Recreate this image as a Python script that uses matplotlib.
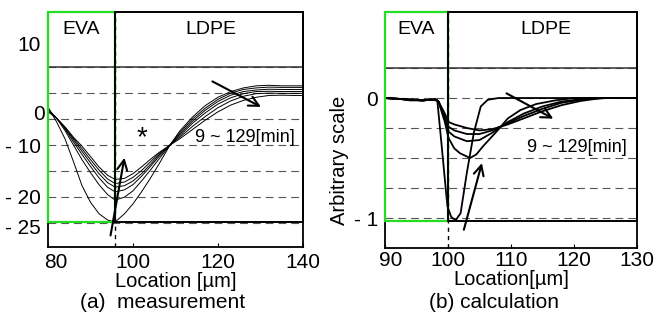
import matplotlib
matplotlib.use("Agg")
import matplotlib.pyplot as plt
from matplotlib.patches import Rectangle
from matplotlib.transforms import ScaledTranslation

plt.rcParams['font.family'] = ['Liberation Sans', 'DejaVu Sans']

GREEN = '#22dd22'
GRID_DASH = (0, (7, 4.5))

# ---- (a) measurement: six traces, 9 ~ 129 min ----
meas_x = [80, 82, 84, 86, 88, 90, 92, 94, 95.8, 98, 100, 102, 104, 106, 108.7,
          111, 114, 117, 120, 123, 126, 129, 132, 135, 138, 140]
meas_1 = [-2.7, -5.5, -8.8, -13.2, -17.8, -21.0, -23.2, -24.4, -24.8, -23.2, -21.3, -19.0, -16.5,
          -13.8, -10.0, -7.3, -4.6, -2.4, -0.8, 0.3, 1.0, 1.4, 1.5, 1.4, 1.4, 1.4]
meas_2 = [-3.0, -4.8, -7.2, -10.0, -12.8, -15.3, -17.6, -19.5, -20.6, -20.0, -18.8, -16.9, -14.9,
          -12.8, -10.0, -7.6, -5.0, -2.9, -1.2, 0.0, 0.7, 1.0, 1.15, 1.1, 1.1, 1.1]
meas_3 = [-3.2, -4.8, -6.9, -9.4, -11.8, -14.1, -16.3, -18.1, -19.0, -18.6, -17.6, -16.0, -14.2,
          -12.3, -10.0, -7.9, -5.4, -3.3, -1.6, -0.4, 0.3, 0.6, 0.75, 0.7, 0.7, 0.7]
meas_4 = [-3.3, -4.8, -6.7, -9.0, -11.2, -13.4, -15.5, -17.2, -18.1, -17.8, -16.9, -15.5, -13.8,
          -12.0, -10.0, -8.2, -5.8, -3.8, -2.1, -0.9, -0.1, 0.3, 0.35, 0.3, 0.3, 0.3]
meas_5 = [-3.4, -4.8, -6.6, -8.7, -10.7, -12.8, -14.8, -16.5, -17.4, -17.1, -16.2, -14.9, -13.3,
          -11.7, -10.0, -8.5, -6.4, -4.5, -2.8, -1.5, -0.6, -0.1, 0.0, -0.05, -0.05, -0.05]
meas_6 = [-3.6, -4.8, -6.5, -8.5, -10.2, -12.2, -14.2, -15.8, -16.6, -16.4, -15.5, -14.2, -12.8,
          -11.5, -10.0, -8.8, -7.0, -5.2, -3.6, -2.3, -1.4, -0.8, -0.45, -0.4, -0.45, -0.45]
meas_curves = [meas_1, meas_2, meas_3, meas_4, meas_5, meas_6]

meas_grid = [5, 0, -5, -10, -15, -20, -25]
meas_ytick_pos = [9.6, -3.8, -10, -19.8, -25.7]
meas_ytick_lab = ['10', '0', '- 10', '- 20', '- 25']
meas_xticks = [80, 100, 120, 140]
meas_boundary = 95.8

# ---- (b) calculation ----
calc_1_x = [90, 92, 94, 96, 97, 98.3, 99.0, 99.9, 100.5, 101.2, 102.0, 103.0, 104.1, 105.2, 106.3, 108, 130]
calc_1_y = [0, -0.005, -0.02, -0.02, -0.015, -0.02, -0.4, -0.9, -0.99, -1.02, -0.96, -0.62, -0.29,
            -0.07, -0.015, 0, 0]
calc_2_x = [90, 93, 96, 98, 98.5, 99.5, 100.05, 101.0, 101.9, 103.5, 104.5, 105.6, 107.7, 109.5,
            111.5, 114, 117, 120, 130]
calc_2_y = [0, -0.01, -0.02, -0.01, -0.03, -0.2, -0.33, -0.42, -0.46, -0.50, -0.47, -0.40, -0.28,
            -0.17, -0.10, -0.05, -0.02, 0, 0]
calc_3_x = [90, 93, 96, 98, 98.5, 99.5, 100.1, 101, 103, 105, 107, 109.5, 112, 115, 118, 121, 123, 130]
calc_3_y = [0, -0.01, -0.02, -0.01, -0.03, -0.18, -0.28, -0.32, -0.36, -0.35, -0.29, -0.20, -0.13,
            -0.07, -0.03, -0.01, 0, 0]
calc_4_x = [90, 93, 96, 98, 98.5, 99.5, 100.1, 101, 103, 105, 107, 109.5, 112, 115, 118, 121, 124, 130]
calc_4_y = [0, -0.01, -0.02, -0.01, -0.03, -0.15, -0.24, -0.27, -0.30, -0.30, -0.27, -0.21, -0.15,
            -0.09, -0.04, -0.015, 0, 0]
calc_5_x = [90, 93, 96, 98, 98.5, 99.5, 100.1, 101, 103, 105, 107, 109.5, 112, 115, 118, 121, 123, 125, 130]
calc_5_y = [0, -0.01, -0.02, -0.01, -0.03, -0.13, -0.20, -0.22, -0.25, -0.27, -0.26, -0.22, -0.17,
            -0.11, -0.06, -0.025, -0.01, 0, 0]
calc_curves = [(calc_1_x, calc_1_y), (calc_2_x, calc_2_y), (calc_3_x, calc_3_y),
               (calc_4_x, calc_4_y), (calc_5_x, calc_5_y)]

calc_grid = [0.25, 0, -0.25, -0.5, -0.75, -1.0]
calc_xticks = [90, 100, 110, 120, 130]
calc_boundary = 100


fig = plt.figure(figsize=(6.68, 3.22), dpi=100)
ax1 = fig.add_axes([48 / 668, 75 / 322, 255 / 668, 235 / 322])
ax2 = fig.add_axes([385 / 668, 74 / 322, 252 / 668, 236 / 322])


def shift(label, dx_px, dy_px=0):
    label.set_transform(label.get_transform()
                        + ScaledTranslation(dx_px / 100, dy_px / 100, fig.dpi_scale_trans))


def frame(ax, xlim, ylim, grid, boundary, rect_bottom, top_line):
    ax.set_xlim(*xlim)
    ax.set_ylim(*ylim)
    for g in grid:
        ax.axhline(g, color='#555555', lw=0.8, ls=GRID_DASH, zorder=1)
    ax.axhline(top_line, color='#333333', lw=1.1, zorder=1)
    ax.spines['top'].set_visible(False)
    for s in ['left', 'right', 'bottom']:
        ax.spines[s].set_linewidth(1.3)
    ax.axvline(boundary, color='black', lw=1.0, ls=(0, (3, 3)), zorder=1)
    h = ylim[1] - rect_bottom
    ax.add_patch(Rectangle((xlim[0], rect_bottom), boundary - xlim[0], h, fill=False,
                           edgecolor=GREEN, lw=1.6, zorder=4, clip_on=False))
    ax.add_patch(Rectangle((boundary, rect_bottom), xlim[1] - boundary, h, fill=False,
                           edgecolor='black', lw=1.4, zorder=4, clip_on=False))
    ax.text((xlim[0] + boundary) / 2, ylim[1] - 0.075 * (ylim[1] - ylim[0]), 'EVA',
            ha='center', va='center', fontsize=14)
    ax.text((xlim[1] + boundary) / 2 + 0.5, ylim[1] - 0.075 * (ylim[1] - ylim[0]), 'LDPE',
            ha='center', va='center', fontsize=14)
    ax.tick_params(axis='x', direction='in', length=3, labelsize=15, pad=4)
    ax.tick_params(axis='y', length=0, labelsize=15, pad=5)


# (a)
frame(ax1, (80, 140), (-29.6, 15.6), meas_grid, meas_boundary, -24.75, 5)
for c in meas_curves:
    ax1.plot(meas_x, c, color='black', lw=0.7, zorder=3)
ax1.set_xticks(meas_xticks)
ax1.set_yticks(meas_ytick_pos)
ax1.set_yticklabels(meas_ytick_lab)
shift(ax1.get_xticklabels()[0], 8)
shift(ax1.get_yticklabels()[1], 4)
ax1.set_xlabel('Location [µm]', fontsize=14.5, labelpad=0)
ax1.annotate('', xy=(98.1, -11.9), xytext=(94.6, -27.9),
             arrowprops=dict(arrowstyle='->', lw=1.5, mutation_scale=18, color='black'), zorder=5)
ax1.annotate('', xy=(130.7, -2.9), xytext=(118.1, 2.5),
             arrowprops=dict(arrowstyle='->', lw=1.5, mutation_scale=18, color='black'), zorder=5)
ax1.text(102, -8.6, '*', ha='center', va='center', fontsize=20)
ax1.text(114.6, -8.5, '9 ~ 129[min]', ha='left', va='center', fontsize=13)

# (b)
frame(ax2, (90, 130), (-1.25, 0.717), calc_grid, calc_boundary, -1.025, 0.25)
for cx, cy in calc_curves:
    ax2.plot(cx, cy, color='black', lw=1.3, zorder=3)
ax2.set_xticks(calc_xticks)
ax2.set_yticks([0, -1])
ax2.set_yticklabels(['0', '- 1'])
ax2.tick_params(axis='x', pad=2)
shift(ax2.get_xticklabels()[0], 6)
ax2.set_xlabel('Location[µm]', fontsize=14.5, labelpad=0)
ax2.set_ylabel('Arbitrary scale', fontsize=14.5)
ax2.yaxis.set_label_coords(-0.143, 0.373)
ax2.annotate('', xy=(105.5, -0.52), xytext=(102.4, -1.12),
             arrowprops=dict(arrowstyle='->', lw=1.5, mutation_scale=18, color='black'), zorder=5)
ax2.annotate('', xy=(117.1, -0.183), xytext=(108.9, 0.05),
             arrowprops=dict(arrowstyle='->', lw=1.5, mutation_scale=18, color='black'), zorder=5)
ax2.text(112.5, -0.41, '9 ~ 129[min]', ha='left', va='center', fontsize=13)

fig.text(163 / 668, 1 - 302 / 322, '(a)  measurement', ha='center', va='center', fontsize=15)
fig.text(494 / 668, 1 - 302 / 322, '(b) calculation', ha='center', va='center', fontsize=15)

fig.savefig('out.png', dpi=100)
